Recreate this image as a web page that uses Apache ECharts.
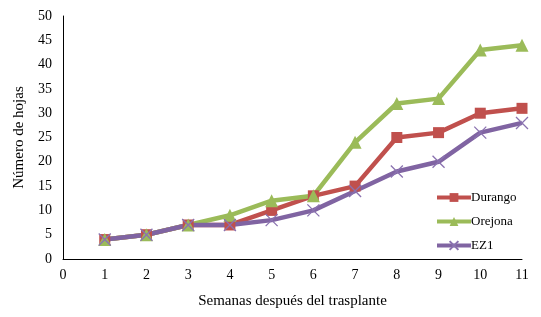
<!DOCTYPE html>
<html>
<head>
<meta charset="utf-8">
<script src="https://cdn.jsdelivr.net/npm/echarts@6/dist/echarts.min.js"></script>
<style>
  html, body { margin: 0; padding: 0; background: #fff; }
  #main { width: 541px; height: 317px; }
</style>
</head>
<body>
<div id="main"></div>
<script>
// semanas
var semanas = [1, 2, 3, 4, 5, 6, 7, 8, 9, 10, 11];

// número de hojas por variedad
var durango = [4, 5, 7, 7, 10, 13, 15, 25, 26, 30, 31];
var orejona = [4, 5, 7, 9, 12, 13, 24, 32, 33, 43, 44];
var ez1 = [4, 5, 7, 7, 8, 10, 14, 18, 20, 26, 28];

var toPairs = function (vals) {
    return vals.map(function (v, i) { return [semanas[i], v]; });
};

var font = 'Liberation Serif';
var myChart = echarts.init(document.getElementById('main'));

var option = {
    animation: false,
    textStyle: { fontFamily: font },
    grid: { left: 63, right: 19, top: 16, bottom: 58 },
    legend: {
        orient: 'vertical',
        left: 430,
        top: 186,
        itemWidth: 34,
        itemHeight: 11,
        itemGap: 11,
        lineStyle: { width: 4 },
        textStyle: { fontFamily: font, fontSize: 13, color: '#000', padding: [0, 0, 0, -5] },
        data: ['Durango', 'Orejona', 'EZ1']
    },
    xAxis: {
        type: 'value',
        min: 0,
        max: 11,
        interval: 1,
        name: 'Semanas después del trasplante',
        nameLocation: 'middle',
        nameGap: 35,
        nameTextStyle: { fontFamily: font, fontSize: 15, color: '#000' },
        axisLine: { lineStyle: { color: '#000', width: 1 } },
        axisTick: { show: false },
        splitLine: { show: false },
        axisLabel: { fontFamily: font, fontSize: 14, color: '#000', margin: 9 }
    },
    yAxis: {
        type: 'value',
        min: 0,
        max: 50,
        interval: 5,
        name: 'Número de hojas',
        nameLocation: 'middle',
        nameGap: 36,
        nameTextStyle: { fontFamily: font, fontSize: 15, color: '#000' },
        axisLine: { show: true, lineStyle: { color: '#000', width: 1 } },
        axisTick: { show: false },
        splitLine: { show: false },
        axisLabel: { fontFamily: font, fontSize: 14, color: '#000', margin: 11 }
    },
    series: [
        {
            name: 'Durango',
            type: 'line',
            data: toPairs(durango),
            symbol: 'rect',
            symbolSize: 11,
            lineStyle: { color: '#C0504D', width: 4.5 },
            itemStyle: { color: '#C0504D' }
        },
        {
            name: 'Orejona',
            type: 'line',
            data: toPairs(orejona),
            symbol: 'triangle',
            symbolSize: 13,
            lineStyle: { color: '#9BBB59', width: 4.5 },
            itemStyle: { color: '#9BBB59' }
        },
        {
            name: 'EZ1',
            type: 'line',
            data: toPairs(ez1),
            symbol: 'path://M0,0L10,10M10,0L0,10',
            symbolSize: 12,
            lineStyle: { color: '#8064A2', width: 4.5 },
            itemStyle: { color: '#8064A2', borderColor: '#8A72B0', borderWidth: 1.3 }
        }
    ]
};

myChart.setOption(option);
</script>
</body>
</html>
